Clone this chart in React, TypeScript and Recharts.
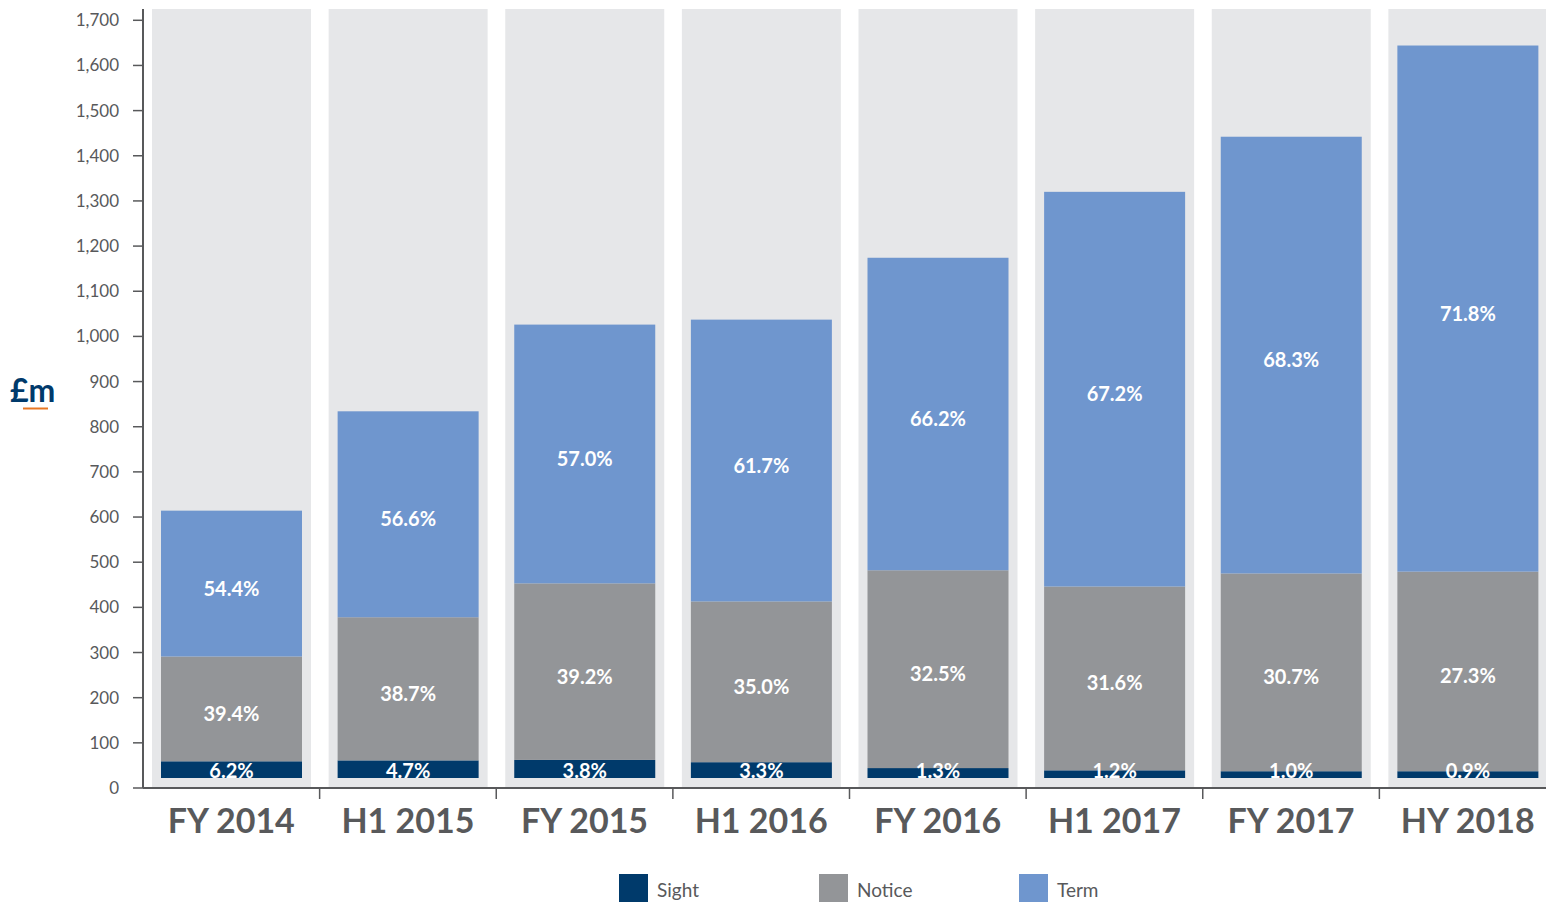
import React from "react";
import { BarChart, Bar, XAxis, YAxis, Legend, LabelList } from "recharts";

const periods = ["FY 2014", "H1 2015", "FY 2015", "H1 2016", "FY 2016", "H1 2017", "FY 2017", "HY 2018"];
// £m balances
const sight = [37, 39, 40, 35, 22, 17, 15, 15];
const notice = [232, 317, 391, 356, 438, 407, 438, 442];
const term = [323, 456, 573, 624, 692, 874, 967, 1165];
const sightPct = ["6.2%", "4.7%", "3.8%", "3.3%", "1.3%", "1.2%", "1.0%", "0.9%"];
const noticePct = ["39.4%", "38.7%", "39.2%", "35.0%", "32.5%", "31.6%", "30.7%", "27.3%"];
const termPct = ["54.4%", "56.6%", "57.0%", "61.7%", "66.2%", "67.2%", "68.3%", "71.8%"];
const yTicks = [0, 100, 200, 300, 400, 500, 600, 700, 800, 900, 1000, 1100, 1200, 1300, 1400, 1500, 1600, 1700];

const data = periods.map((period, i) => ({
  period,
  sight: sight[i],
  notice: notice[i],
  term: term[i],
  sightPct: sightPct[i],
  noticePct: noticePct[i],
  termPct: termPct[i],
}));

const SIGHT = "#003a6b";
const NOTICE = "#939598";
const TERM = "#6f96ce";
const BG = "#e6e7e9";
const TEXT = "#58595b";
const ORANGE = "#e87722";
const CHART_W = 1556;
const Y_W = 143;
const BAND = (CHART_W - Y_W) / periods.length;
const LIFT = 10; // stacks sit slightly above the axis
const BG_PAD = 9;

const liftedBar = (p: any) => (
  <rect x={p.x} y={p.y - LIFT} width={p.width} height={p.height} fill={p.fill} />
);

const centerLabel = (p: any) => {
  const vb = p.viewBox ?? p;
  return (
    <text
      x={vb.x + vb.width / 2}
      y={vb.y + vb.height / 2 - LIFT + 4}
      textAnchor="middle"
      dominantBaseline="central"
      fill="#fff"
      fontSize={20}
      fontWeight={700}
    >
      {p.value}
    </text>
  );
};

const bottomLabel = (p: any) => {
  const vb = p.viewBox ?? p;
  return (
    <text
      x={vb.x + vb.width / 2}
      y={vb.y + vb.height - LIFT - 8}
      textAnchor="middle"
      dominantBaseline="central"
      fill="#fff"
      fontSize={20}
      fontWeight={700}
    >
      {p.value}
    </text>
  );
};

const periodTick = (p: any) => {
  const last = p.index === periods.length - 1;
  return (
    <g>
      {!last && (
        <line
          x1={p.x + BAND / 2}
          x2={p.x + BAND / 2}
          y1={p.y - 21}
          y2={p.y - 10}
          stroke={TEXT}
          strokeWidth={1.5}
        />
      )}
      <text x={p.x} y={p.y} dy="0.71em" textAnchor="middle" fill={TEXT} fontSize={34} fontWeight={700}>
        {p.payload.value}
      </text>
    </g>
  );
};

const legendItems = [
  { label: "Sight", color: SIGHT },
  { label: "Notice", color: NOTICE },
  { label: "Term", color: TERM },
];

const renderLegend = () => (
  <div style={{ display: "flex", paddingLeft: 619 }}>
    {legendItems.map((item) => (
      <div key={item.label} style={{ display: "flex", alignItems: "center", width: 200 }}>
        <div style={{ width: 29, height: 28, background: item.color }} />
        <span style={{ marginLeft: 9, fontSize: 19, color: TEXT, lineHeight: "28px", position: "relative", top: 2 }}>
          {item.label}
        </span>
      </div>
    ))}
  </div>
);

const unitLabel = (p: any) => {
  const vb = p.viewBox;
  const cy = vb.y + vb.height / 2;
  return (
    <g>
      <text x={vb.x + 10} y={cy + 3.5} fill={SIGHT} fontSize={32} fontWeight={700}>
        £m
      </text>
      <line x1={vb.x + 23} x2={vb.x + 48} y1={cy + 10} y2={cy + 10} stroke={ORANGE} strokeWidth={2} />
    </g>
  );
};

export default function App() {
  return (
    <div
      style={{
        position: "absolute",
        left: 0,
        top: 0,
        width: 1546,
        height: 902,
        overflow: "hidden",
        background: "#fff",
        fontFamily: "Lato, 'Open Sans', sans-serif",
      }}
    >
      <BarChart width={CHART_W} height={902} data={data} margin={{ top: 9, right: 0, left: 0, bottom: 0 }}>
        <XAxis
          dataKey="period"
          interval={0}
          tickLine={false}
          tickSize={0}
          tickMargin={21}
          axisLine={{ stroke: TEXT, strokeWidth: 2 }}
          tick={periodTick}
          height={86}
        />
        <YAxis
          width={Y_W}
          domain={[0, 1725]}
          ticks={yTicks}
          interval={0}
          tickFormatter={(v: number) => v.toLocaleString("en-GB")}
          tick={{ fill: TEXT, fontSize: 17 }}
          tickSize={10}
          tickMargin={14}
          tickLine={{ stroke: TEXT, strokeWidth: 1.5 }}
          axisLine={{ stroke: TEXT, strokeWidth: 2 }}
          label={{ content: unitLabel }}
        />
        <Legend verticalAlign="bottom" height={28} content={renderLegend} />
        <Bar
          dataKey="sight"
          name="Sight"
          stackId="a"
          fill={SIGHT}
          barSize={141}
          shape={liftedBar}
          background={(p: any) => (
            <rect
              key={`bg-${p.index}`}
              x={p.x - BG_PAD}
              y={p.y}
              width={p.width + 2 * BG_PAD}
              height={p.height}
              fill={BG}
            />
          )}
          isAnimationActive={false}
        >
          <LabelList dataKey="sightPct" content={bottomLabel} />
        </Bar>
        <Bar dataKey="notice" name="Notice" stackId="a" fill={NOTICE} barSize={141} shape={liftedBar} isAnimationActive={false}>
          <LabelList dataKey="noticePct" content={centerLabel} />
        </Bar>
        <Bar dataKey="term" name="Term" stackId="a" fill={TERM} barSize={141} shape={liftedBar} isAnimationActive={false}>
          <LabelList dataKey="termPct" content={centerLabel} />
        </Bar>
      </BarChart>
    </div>
  );
}
